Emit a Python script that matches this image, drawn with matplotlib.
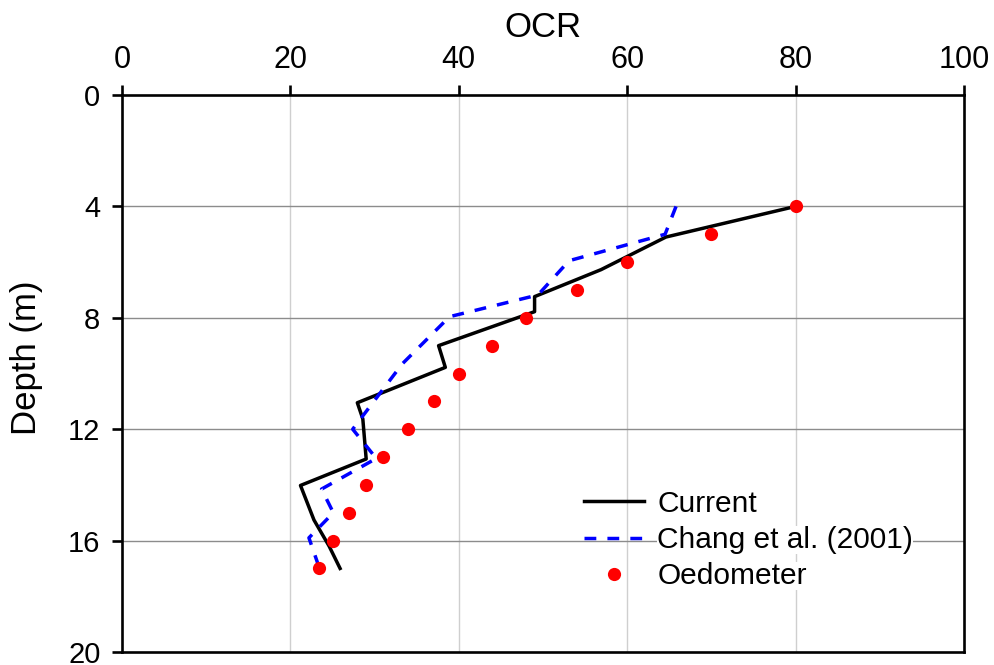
import matplotlib
matplotlib.use("Agg")
import matplotlib.pyplot as plt

# ---- data ----
current_ocr = [80.0, 64.6, 56.9, 49.0, 49.0, 37.6, 38.4, 27.95, 28.6, 29.0, 21.2, 22.8, 24.6, 25.9]
current_depth = [4.0, 5.1, 6.27, 7.24, 7.78, 9.0, 9.78, 11.05, 11.63, 13.07, 14.02, 15.26, 16.2, 17.0]

chang_ocr = [65.8, 64.5, 53.1, 49.4, 38.9, 33.3, 27.4, 30.2, 23.7, 25.1, 22.2, 23.4]
chang_depth = [4.0, 5.0, 5.95, 7.18, 7.96, 9.65, 12.0, 13.05, 14.15, 15.0, 15.9, 16.95]

oed_ocr = [80, 70, 60, 54, 48, 44, 40, 37, 34, 31, 29, 27, 25, 23.4]
oed_depth = [4, 5, 6, 7, 8, 9, 10, 11, 12, 13, 14, 15, 16, 17]

x_ticks = [0, 20, 40, 60, 80, 100]
y_ticks = [0, 4, 8, 12, 16, 20]

plt.rcParams['font.family'] = ['Liberation Sans', 'DejaVu Sans']

fig = plt.figure(figsize=(9.95, 6.65), dpi=100)
ax = fig.add_axes([122/995, 1-652/665, (964-122)/995, (652-95)/665])

ax.plot(current_ocr, current_depth, color='black', lw=2.5, label='Current', zorder=3)
ax.plot(chang_ocr, chang_depth, color='#0000ff', lw=2.5, linestyle=(0, (3.4, 3.2)),
        label='Chang et al. (2001)', zorder=3)
ax.plot(oed_ocr, oed_depth, 'o', color='#ff0000', markersize=9.5, markeredgewidth=0,
        label='Oedometer', zorder=4)

ax.set_xlim(0, 100)
ax.set_ylim(20, 0)
ax.set_xticks(x_ticks)
ax.set_yticks(y_ticks)
ax.xaxis.tick_top()
ax.xaxis.set_label_position('top')

for x in x_ticks[1:-1]:
    ax.axvline(x, color='#cfcfcf', lw=1.0, zorder=1)
for y in y_ticks[1:-1]:
    ax.axhline(y, color='#8c8c8c', lw=1.0, zorder=1)

for s in ax.spines.values():
    s.set_linewidth(1.9)
    s.set_color('black')

ax.tick_params(axis='x', direction='out', length=7.5, width=1.9, pad=7, labelsize=22)
ax.tick_params(axis='y', direction='out', length=7.5, width=1.9, pad=8, labelsize=21)

ax.set_xlabel('OCR', fontsize=25, labelpad=6)
ax.set_ylabel('Depth (m)', fontsize=25)
ax.yaxis.set_label_coords((43 - 122) / 842, (652 - 358) / 557)

leg = ax.legend(loc='center left', bbox_to_anchor=(584/995, 1-540/665),
                bbox_transform=fig.transFigure, frameon=False, fontsize=21.5,
                handlelength=2.0, handletextpad=0.45, labelspacing=0.28,
                borderpad=0, borderaxespad=0, numpoints=1)
for t in leg.get_texts():
    t.set_bbox(dict(facecolor='white', edgecolor='none', pad=0))

fig.savefig('out.png', dpi=100)
